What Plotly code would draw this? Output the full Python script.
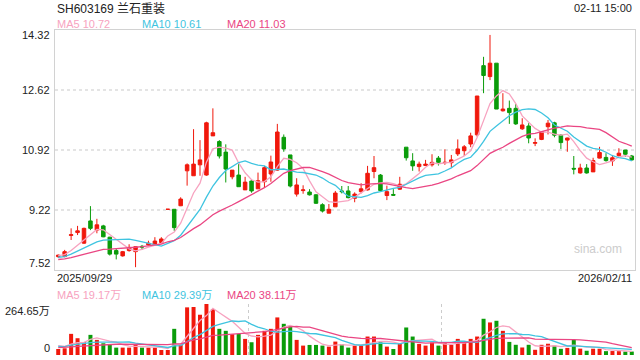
import plotly.graph_objects as go
import pandas as pd

# ---------------- data ----------------
title_text = "SH603169 兰石重装"
time_text = "02-11 15:00"
first_date = "2025/09/29"
last_date = "2026/02/11"

opens = [7.90, 7.90, 8.50, 8.58, 8.28, 8.91, 8.65, 8.77, 8.45, 8.07,
         7.92, 8.07, 8.04, 8.19, 8.23, 8.25, 8.30, 9.24, 9.24, 9.34,
         10.33, 10.19, 10.50, 10.21, 11.32, 11.16, 10.86, 10.16, 10.21, 9.79,
         10.04, 9.82, 10.02, 10.24, 10.35, 11.28, 10.78, 9.67, 9.77, 9.73,
         9.65, 9.37, 9.13, 9.31, 9.76, 9.76, 9.55, 9.74, 9.79, 10.31,
         10.21, 9.63, 9.66, 9.81, 11.00, 10.61, 10.45, 10.48, 10.50, 10.69,
         10.56, 10.56, 10.81, 10.90, 11.09, 11.35, 13.31, 13.00, 13.38, 12.03,
         12.10, 12.10, 11.52, 11.60, 11.11, 11.22, 11.58, 11.69, 11.34, 11.20,
         10.40, 10.27, 10.41, 10.30, 10.69, 10.71, 10.61, 10.76, 10.92, 10.75]
highs = [7.96, 8.09, 8.70, 8.77, 8.72, 9.33, 8.97, 8.80, 8.46, 8.13,
         8.06, 8.25, 8.18, 8.23, 8.35, 8.45, 8.45, 9.24, 9.24, 9.58,
         10.54, 11.51, 11.20, 11.72, 12.10, 11.20, 11.08, 10.35, 10.52, 10.16,
         10.07, 10.28, 10.47, 10.76, 11.66, 11.36, 10.78, 10.12, 9.92, 9.81,
         9.67, 9.41, 9.39, 9.76, 9.90, 9.90, 9.72, 9.98, 10.47, 10.75,
         10.24, 9.91, 9.81, 10.16, 11.00, 10.83, 10.59, 10.64, 10.80, 10.75,
         10.94, 10.78, 11.22, 11.06, 11.41, 12.45, 13.56, 14.18, 13.38, 12.53,
         12.32, 12.22, 11.82, 11.68, 11.25, 11.44, 11.77, 11.72, 11.37, 11.27,
         10.75, 10.53, 10.52, 10.70, 11.01, 10.83, 10.78, 10.97, 10.92, 10.78]
lows = [7.86, 7.88, 8.37, 8.51, 8.26, 8.65, 8.56, 8.45, 7.93, 7.82,
        7.90, 8.04, 7.60, 8.09, 8.20, 8.23, 8.28, 9.24, 8.63, 9.33,
        9.91, 10.19, 10.19, 10.19, 11.32, 10.68, 10.00, 10.09, 9.88, 9.79,
        9.71, 9.82, 9.86, 10.02, 10.33, 10.87, 9.86, 9.60, 9.68, 9.63,
        9.39, 9.15, 9.13, 9.31, 9.69, 9.55, 9.44, 9.69, 9.77, 10.12,
        9.74, 9.50, 9.62, 9.79, 10.62, 10.33, 10.31, 10.47, 10.45, 10.48,
        10.50, 10.43, 10.75, 10.75, 11.00, 11.30, 12.53, 12.90, 12.08, 12.01,
        11.66, 11.63, 11.49, 11.11, 11.03, 11.20, 11.36, 11.28, 10.95, 10.87,
        10.23, 10.25, 10.25, 10.30, 10.68, 10.59, 10.47, 10.73, 10.73, 10.61]
closes = [7.94, 8.04, 8.52, 8.63, 8.70, 8.70, 8.80, 8.46, 7.97, 7.97,
          8.04, 8.16, 8.18, 8.17, 8.28, 8.34, 8.40, 9.24, 8.72, 9.53,
          10.50, 10.52, 10.64, 11.69, 11.41, 10.75, 10.38, 10.35, 9.88, 10.01,
          9.76, 10.05, 10.42, 10.58, 11.43, 10.95, 9.90, 9.93, 9.79, 9.65,
          9.41, 9.19, 9.24, 9.70, 9.74, 9.57, 9.67, 9.82, 10.26, 10.42,
          9.77, 9.74, 9.64, 9.95, 10.70, 10.47, 10.52, 10.52, 10.57, 10.57,
          10.57, 10.64, 10.95, 11.01, 11.32, 12.45, 13.03, 13.38, 12.08, 12.08,
          11.98, 11.66, 11.63, 11.26, 11.13, 11.44, 11.68, 11.34, 11.13, 11.26,
          10.38, 10.41, 10.27, 10.62, 10.85, 10.62, 10.70, 10.83, 10.80, 10.64]
# volume in 万 (10k shares)
volumes = [31.3, 34.8, 109.7, 87.1, 66.2, 104.5, 78.4, 60.9, 52.2, 38.3,
           38.3, 38.3, 55.7, 38.3, 38.3, 38.3, 26.1, 26.1, 135.8, 52.2,
           247.2, 249.0, 208.9, 264.65, 238.5, 135.8, 125.4, 108.0, 109.7, 83.6,
           66.2, 104.5, 125.4, 135.8, 195.0, 161.9, 148.0, 78.4, 48.8, 52.2,
           52.2, 48.8, 43.5, 69.6, 55.7, 38.3, 48.8, 48.8, 95.8, 95.8,
           66.2, 43.5, 31.3, 57.5, 142.8, 95.8, 57.5, 48.8, 64.4, 48.8,
           60.9, 52.2, 83.6, 64.4, 83.6, 95.8, 188.0, 168.9, 177.6, 125.4,
           68.0, 53.0, 39.0, 53.0, 27.0, 53.0, 58.5, 48.0, 32.0, 36.8,
           78.0, 33.0, 22.0, 32.5, 32.55, 20.0, 20.5, 20.0, 17.6, 17.75]
# closes / volumes before the visible window (used only to warm up the MAs)
prior_closes = [7.70, 7.75, 7.68, 7.72, 7.80, 7.76, 7.74, 7.82, 7.78, 7.80,
                7.85, 7.83, 7.80, 7.86, 7.82, 7.90, 7.95, 7.88, 7.98]
prior_volumes = [30, 35, 32, 28, 36, 33, 30, 34, 31, 37,
                 40, 38, 36, 42, 45, 55, 50, 52, 55]

price_ticks = [7.52, 9.22, 10.92, 12.62, 14.32]
vol_top = 264.65
ma_periods = [5, 10, 20]

# ---------------- styling ----------------
RED = "#f0180c"
GREEN = "#0a9c0a"
MA_COLORS = {5: "#f7a3c0", 10: "#3fc4e0", 20: "#ea4683"}
TXT = "#222222"
FONT = "Liberation Sans, Arial, Noto Sans CJK SC, sans-serif"

W, H = 640, 360
L, R, T, B = 55, 5, 30, 5
PH = H - T - B
PW = W - L - R


def py(ypx):
    return (H - B - ypx) / PH


def px(xpx):
    return (xpx - L) / PW


n = len(closes)
xs = list(range(n))
npc = len(prior_closes)
cser = pd.Series(prior_closes + closes)
vser = pd.Series(prior_volumes + volumes)
price_ma = {p: cser.rolling(p).mean().iloc[npc:].tolist() for p in ma_periods}
vol_ma = {p: vser.rolling(p).mean().iloc[npc:].tolist() for p in ma_periods}
vol_colors = [RED if c >= o else GREEN for o, c in zip(opens, closes)]

fig = go.Figure()
fig.add_trace(go.Candlestick(
    x=xs, open=opens, high=highs, low=lows, close=closes,
    increasing=dict(line=dict(color=RED, width=1), fillcolor=RED),
    decreasing=dict(line=dict(color=GREEN, width=1), fillcolor=GREEN),
    whiskerwidth=0, xaxis="x", yaxis="y", hoverinfo="skip"))
for p in ma_periods:
    fig.add_trace(go.Scatter(x=xs, y=price_ma[p], mode="lines",
                             line=dict(color=MA_COLORS[p], width=1.3),
                             xaxis="x", yaxis="y", hoverinfo="skip"))
fig.add_trace(go.Bar(x=xs, y=volumes, marker=dict(color=vol_colors, line=dict(width=0)),
                     xaxis="x2", yaxis="y2", hoverinfo="skip"))
for p in ma_periods:
    fig.add_trace(go.Scatter(x=xs, y=vol_ma[p], mode="lines",
                             line=dict(color=MA_COLORS[p], width=1.3),
                             xaxis="x2", yaxis="y2", hoverinfo="skip"))

BORDER = "#d2d2d2"
fig.update_layout(
    width=W, height=H, margin=dict(l=L, r=R, t=T, b=B),
    paper_bgcolor="white", plot_bgcolor="white", showlegend=False,
    bargap=0.38, boxgap=0.22,
    font=dict(family=FONT, size=11, color=TXT),
    xaxis=dict(domain=[0, 1], range=[-0.5, n - 0.5], anchor="y",
               showticklabels=False, showgrid=False, zeroline=False,
               showline=True, mirror=True, linecolor=BORDER, linewidth=1,
               rangeslider=dict(visible=False), ticks=""),
    yaxis=dict(domain=[py(270), 1], range=[price_ticks[0], price_ticks[-1]], anchor="x",
               tickvals=price_ticks, showticklabels=False, showgrid=True,
               gridcolor="#e4e4e4", griddash="dot", gridwidth=2, zeroline=False,
               showline=True, mirror=True, linecolor=BORDER, linewidth=1, ticks=""),
    xaxis2=dict(domain=[0, 1], matches="x", anchor="y2", showticklabels=False,
                tickvals=[-0.5, 29.5, 59.5, n - 0.5], showgrid=True, gridcolor="#cccccc",
                griddash="dot", gridwidth=1, zeroline=False, showline=False, ticks=""),
    yaxis2=dict(domain=[0, py(304)], range=[0, vol_top], anchor="x2",
                tickvals=[vol_top], showticklabels=False, showgrid=True,
                gridcolor="#cccccc", griddash="dot", gridwidth=1, zeroline=False,
                showline=False, ticks=""),
)

ann = []
ann.append(dict(text=title_text, x=px(55), y=py(9), xref="paper", yref="paper",
                xanchor="left", yanchor="middle", showarrow=False,
                font=dict(size=12, color=TXT)))
ann.append(dict(text=time_text, x=px(634), y=py(8), xref="paper", yref="paper",
                xanchor="right", yanchor="middle", showarrow=False,
                font=dict(size=11, color=TXT)))
leg_x = {5: 55, 10: 140, 20: 225}
for p in ma_periods:
    ann.append(dict(text=f"MA{p} {price_ma[p][-1]:.2f}", x=px(leg_x[p]), y=py(24),
                    xref="paper", yref="paper", xanchor="left", yanchor="middle",
                    showarrow=False, font=dict(size=11, color=MA_COLORS[p])))
    ann.append(dict(text=f"MA{p} {vol_ma[p][-1]:.2f}万", x=px(leg_x[p]), y=py(295),
                    xref="paper", yref="paper", xanchor="left", yanchor="middle",
                    showarrow=False, font=dict(size=11, color=MA_COLORS[p])))
for i, v in enumerate(price_ticks):
    shift = 7 if i == 0 else (-5 if i == len(price_ticks) - 1 else 0)
    ann.append(dict(text=f"{v:.2f}", x=0, y=v, xref="paper", yref="y",
                    xanchor="right", yanchor="middle", xshift=-3, yshift=shift,
                    showarrow=False, font=dict(size=11, color=TXT)))
ann.append(dict(text=f"{vol_top:.2f}万", x=0, y=vol_top, xref="paper", yref="y2",
                xanchor="right", yanchor="middle", xshift=-3, yshift=-7,
                showarrow=False, font=dict(size=11, color=TXT)))
ann.append(dict(text="0", x=0, y=0, xref="paper", yref="y2",
                xanchor="right", yanchor="middle", xshift=-3, yshift=7,
                showarrow=False, font=dict(size=11, color=TXT)))
ann.append(dict(text=first_date, x=px(55), y=py(278), xref="paper", yref="paper",
                xanchor="left", yanchor="middle", showarrow=False,
                font=dict(size=11, color=TXT)))
ann.append(dict(text=last_date, x=px(634), y=py(278), xref="paper", yref="paper",
                xanchor="right", yanchor="middle", showarrow=False,
                font=dict(size=11, color=TXT)))
ann.append(dict(text="sina.com", x=px(624), y=py(249), xref="paper", yref="paper",
                xanchor="right", yanchor="middle", showarrow=False,
                font=dict(size=12, color="#cccccc")))
fig.update_layout(annotations=ann)

fig.write_html("out.html", config={"displayModeBar": False},
               post_script="document.body.style.margin='0';document.body.style.padding='0';")
